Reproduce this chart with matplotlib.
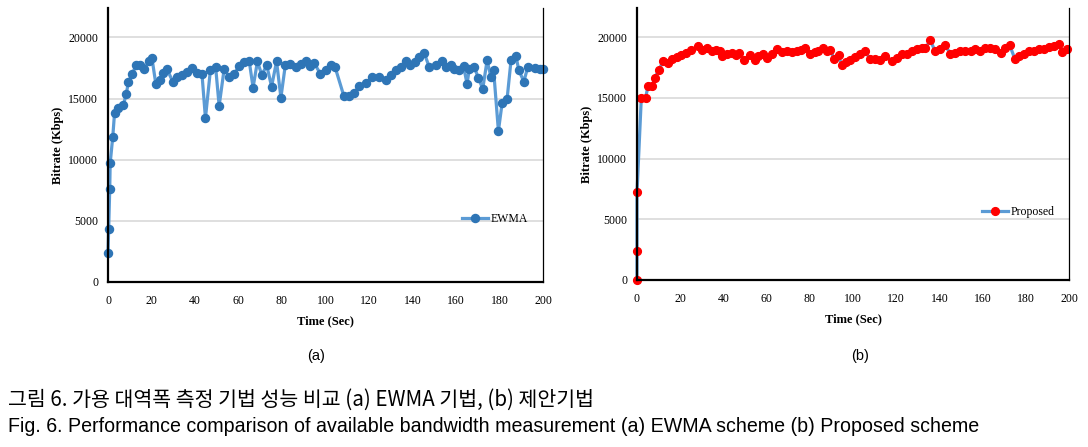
import matplotlib
matplotlib.use("Agg")
import matplotlib.pyplot as plt

# ---------------- data ----------------
ewma_t = [0, 0.3, 0.8, 1.0, 2.2, 3.0, 4.8, 7.1, 8.4, 9.4, 11.0, 13.0, 14.8, 16.7, 18.7, 20.2,
          22.0, 24.0, 25.3, 27.1, 29.9, 31.7, 34.0, 36.3, 38.6, 40.9, 43.2, 44.8, 47.1, 49.5,
          51.1, 53.4, 55.7, 58.0, 60.3, 62.6, 64.9, 66.7, 68.7, 70.7, 73.0, 75.2, 77.5, 79.5,
          81.5, 83.8, 86.4, 88.7, 91.0, 93.0, 94.8, 97.7, 100.1, 102.4, 104.4, 108.5, 110.8,
          113.1, 115.4, 118.5, 121.6, 124.7, 127.7, 130.0, 132.4, 134.7, 137.0, 138.8, 141.2,
          143.1, 145.4, 147.7, 150.8, 153.6, 155.4, 157.7, 159.2, 161.5, 163.5, 165.1, 166.1,
          168.4, 170.3, 172.3, 174.3, 176.1, 177.3, 179.5, 181.2, 183.5, 185.3, 187.6, 188.9,
          191.2, 193.0, 196.1, 198.4, 200.0]
ewma_v = [2400, 4330, 7600, 9700, 11890, 13800, 14210, 14480, 15385, 16340, 17000, 17700, 17700,
          17435, 18030, 18310, 16180, 16480, 17080, 17410, 16340, 16720, 16940, 17130, 17490,
          17080, 17020, 13390, 17350, 17540, 14400, 17410, 16750, 17030, 17620, 17950, 18090,
          15900, 18030, 16940, 17700, 15980, 18030, 15080, 17700, 17820, 17570, 17820, 18030,
          17680, 17900, 17000, 17350, 17700, 17570, 15170, 15170, 15440, 15990, 16260, 16720,
          16800, 16530, 16940, 17350, 17540, 18030, 17700, 17980, 18390, 18720, 17570, 17760,
          18090, 17540, 17760, 17430, 17350, 17620, 16180, 17430, 17570, 16670, 15800, 18120,
          16720, 17300, 12350, 14620, 14980, 18120, 18440, 17300, 16390, 17570, 17490, 17410,
          17400]

prop_t = [0, 0, 0, 2.0, 4.0, 5.1, 7.1, 8.2, 10.2, 12.1, 14.4, 16.4, 18.3, 20.6, 22.9, 25.2,
          28.3, 30.3, 32.5, 34.5, 36.5, 38.4, 39.2, 41.5, 43.8, 45.8, 47.3, 49.5, 52.3, 54.6,
          56.2, 58.2, 60.0, 62.4, 64.7, 67.0, 69.3, 71.6, 74.0, 76.0, 77.8, 80.1, 82.5, 84.0,
          86.0, 87.9, 89.4, 91.3, 93.3, 94.8, 96.8, 98.7, 101.0, 103.3, 105.6, 107.9, 110.2,
          112.6, 114.9, 118.0, 120.4, 122.7, 125.0, 127.3, 129.6, 132.0, 133.5, 135.8, 138.1,
          140.4, 142.7, 145.1, 147.4, 149.7, 152.0, 154.4, 156.7, 159.0, 161.3, 163.6, 165.9,
          168.3, 170.6, 172.6, 174.9, 176.8, 179.1, 181.4, 183.8, 186.1, 188.4, 190.7, 193.0,
          195.4, 196.9, 199.3]
prop_v = [0, 2410, 7210, 15020, 15020, 15970, 15970, 16660, 17320, 18030, 17860, 18220, 18360,
          18500, 18720, 18960, 19230, 18960, 19130, 18850, 18960, 18900, 18440, 18630, 18720,
          18500, 18720, 18080, 18500, 18140, 18440, 18630, 18300, 18630, 19050, 18770, 18850,
          18770, 18850, 18960, 19130, 18630, 18770, 18850, 19130, 18850, 18960, 18220, 18500,
          17670, 17950, 18140, 18360, 18630, 18820, 18220, 18220, 18140, 18440, 18000, 18280,
          18630, 18630, 18900, 19050, 19100, 19100, 19730, 18820, 19050, 19320, 18630, 18720,
          18820, 18820, 18900, 18990, 18900, 19100, 19100, 18990, 18720, 19100, 19320, 18220,
          18440, 18630, 18820, 18900, 18990, 19050, 19180, 19270, 19460, 18770, 19050]

y_ticks = [0, 5000, 10000, 15000, 20000]
x_ticks = [0, 20, 40, 60, 80, 100, 120, 140, 160, 180, 200]

# ---------------- figure ----------------
W, H = 1088, 447
fig = plt.figure(figsize=(W / 100, H / 100), dpi=100)

serif = ["Liberation Serif", "DejaVu Serif"]


def px_axes(x0, x1, y_top, y_bot):
    return fig.add_axes([x0 / W, 1 - y_bot / H, (x1 - x0) / W, (y_bot - y_top) / H])


def style(ax):
    ax.set_xlim(0, 200)
    ax.set_ylim(0, 22400)
    ax.set_xticks(x_ticks)
    ax.set_yticks(y_ticks)
    ax.set_yticklabels([str(v) for v in y_ticks])
    ax.tick_params(length=0, labelsize=8.5)
    ax.tick_params(axis="y", pad=7)
    ax.tick_params(axis="x", pad=9)
    for lab in ax.get_xticklabels() + ax.get_yticklabels():
        lab.set_fontfamily(serif)
    ax.grid(axis="y", color="#d9d9d9", linewidth=1.2)
    ax.set_axisbelow(True)
    ax.spines["top"].set_visible(False)
    for s in ("left", "right", "bottom"):
        ax.spines[s].set_color("black")
    ax.spines["right"].set_linewidth(0.9)
    ax.spines["left"].set_linewidth(1.6)
    ax.spines["bottom"].set_linewidth(1.6)
    ax.set_xlabel("Time (Sec)", fontfamily=serif, fontsize=9, fontweight="bold", labelpad=6)
    ax.set_ylabel("Bitrate (Kbps)", fontfamily=serif, fontsize=9, fontweight="bold", labelpad=3)


ax1 = px_axes(108, 543, 8, 282)
ax1.plot(ewma_t, ewma_v, color="#5b9bd5", linewidth=2.3, marker="o", markersize=5.8,
         markerfacecolor="#2e75b6", markeredgecolor="#2e75b6", label="EWMA", clip_on=False)
style(ax1)
ax1.legend(loc="lower right", bbox_to_anchor=(0.99, 0.17), frameon=False,
           prop={"family": serif, "size": 8.5}, handlelength=2.2, handletextpad=0.2)

ax2 = px_axes(637, 1069, 8, 280)
ax2.plot(prop_t, prop_v, color="#5b9bd5", linewidth=2.3, marker="o", markersize=5.6,
         markerfacecolor="#ff0000", markeredgecolor="#ff0000", label="Proposed", clip_on=False)
style(ax2)
ax2.legend(loc="lower right", bbox_to_anchor=(0.99, 0.19), frameon=False,
           prop={"family": serif, "size": 8.5}, handlelength=2.2, handletextpad=0.2)

sans = ["Liberation Sans", "DejaVu Sans"]
fig.text(316 / W, 1 - 356 / H, "(a)", fontfamily=sans, fontsize=10.5, ha="center", va="center")
fig.text(860 / W, 1 - 356 / H, "(b)", fontfamily=sans, fontsize=10.5, ha="center", va="center")

fig.text(8 / W, 1 - 400 / H, "그림 6. 가용 대역폭 측정 기법 성능 비교 (a) EWMA 기법, (b) 제안기법",
         fontfamily=["Noto Sans CJK KR", "DejaVu Sans"], fontsize=14.8, ha="left", va="center")
fig.text(8 / W, 1 - 426 / H,
         "Fig. 6. Performance comparison of available bandwidth measurement (a) EWMA scheme (b) Proposed scheme",
         fontfamily=sans, fontsize=14.1, ha="left", va="center")

fig.savefig("out.png", dpi=100)
